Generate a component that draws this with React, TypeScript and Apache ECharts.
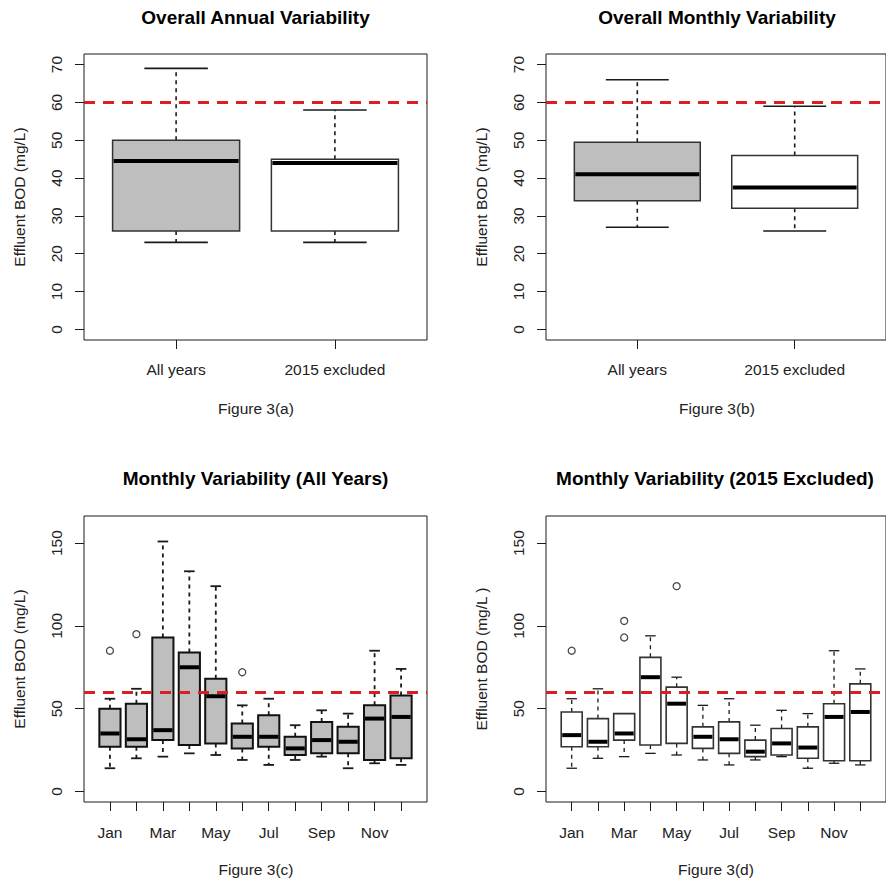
import React, { useEffect, useRef } from "react";
import * as echarts from "echarts";

// ---------- data ----------
const groupLabels = ["All years", "2015 excluded"];
// Figure 3(a) overall annual
const annualLow = [23, 23];
const annualQ1 = [26, 26];
const annualMed = [44.5, 44];
const annualQ3 = [50, 45];
const annualHigh = [69, 58];
// Figure 3(b) overall monthly
const monthlyLow = [27, 26];
const monthlyQ1 = [34, 32];
const monthlyMed = [41, 37.5];
const monthlyQ3 = [49.5, 46];
const monthlyHigh = [66, 59];

const months = ["Jan", "Feb", "Mar", "Apr", "May", "Jun", "Jul", "Aug", "Sep", "Oct", "Nov", "Dec"];
// Figure 3(c) all years
const allLow = [14, 20, 21, 23, 22, 19, 16, 19, 21, 14, 17, 16];
const allQ1 = [27, 27, 31, 28, 29, 26, 27, 22, 23, 23, 19, 20];
const allMed = [35, 31.5, 37, 75, 57.5, 33, 33, 26, 31, 30, 44, 45];
const allQ3 = [50, 53, 93, 84, 68, 41, 46, 33, 42, 39, 52, 58];
const allHigh = [56, 62, 151, 133, 124, 52, 56, 40, 49, 47, 85, 74];
const allOutMonth = [1, 2, 6];
const allOutValue = [85, 95, 72];
// Figure 3(d) 2015 excluded
const exLow = [14, 20, 21, 23, 22, 19, 16, 19, 21, 14, 17, 16];
const exQ1 = [27, 27, 31, 28, 29, 26, 23, 21, 22, 20, 18.5, 18.5];
const exMed = [34, 30, 35, 69, 53, 33, 31.5, 24, 29, 26.5, 45, 48];
const exQ3 = [48, 44, 47, 81, 63, 39, 42, 31, 38, 39, 53, 65];
const exHigh = [56, 62, 47, 94, 69, 52, 56, 40, 49, 47, 85, 74];
const exOutMonth = [1, 3, 3, 5];
const exOutValue = [85, 93, 103, 124];

const limitValue = 60;
const annualTicks = [0, 10, 20, 30, 40, 50, 60, 70];
const monthTicks = [0, 50, 100, 150];

// ---------- helpers ----------
const FONT = '"Liberation Sans", Arial, sans-serif';
const GRAY = "#bebebe";
const INK = "#1a1a1a";

function boxRows(low: number[], q1: number[], med: number[], q3: number[], high: number[]) {
  return low.map((_, i) => [i + 1, low[i], q1[i], med[i], q3[i], high[i]]);
}

function makeRender(fills: string[], borderW: number, whiskerW: number, borderColor: string) {
  return (params: any, api: any) => {
    const x = api.value(0);
    const vals = [1, 2, 3, 4, 5].map((d) => api.value(d));
    const w = api.size([0.8, 0])[0];
    const cx = api.coord([x, vals[0]])[0];
    const [yLow, yQ1, yMed, yQ3, yHigh] = vals.map((v) => api.coord([x, v])[1]);
    const fill = fills[params.dataIndex % fills.length];
    const children: any[] = [];
    if (yHigh < yQ3 - 0.5) {
      children.push({
        type: "line",
        shape: { x1: cx, y1: yQ3, x2: cx, y2: yHigh },
        style: { stroke: INK, lineWidth: whiskerW, lineDash: [4, 4] },
      });
    }
    if (yLow > yQ1 + 0.5) {
      children.push({
        type: "line",
        shape: { x1: cx, y1: yQ1, x2: cx, y2: yLow },
        style: { stroke: INK, lineWidth: whiskerW, lineDash: [4, 4] },
      });
    }
    children.push({
      type: "line",
      shape: { x1: cx - w / 4, y1: yHigh, x2: cx + w / 4, y2: yHigh },
      style: { stroke: INK, lineWidth: whiskerW },
    });
    children.push({
      type: "line",
      shape: { x1: cx - w / 4, y1: yLow, x2: cx + w / 4, y2: yLow },
      style: { stroke: INK, lineWidth: whiskerW },
    });
    children.push({
      type: "rect",
      shape: { x: cx - w / 2, y: yQ3, width: w, height: yQ1 - yQ3 },
      style: { fill, stroke: borderColor, lineWidth: borderW },
    });
    children.push({
      type: "line",
      shape: { x1: cx - w / 2 + 1, y1: yMed, x2: cx + w / 2 - 1, y2: yMed },
      style: { stroke: "#000", lineWidth: 4 },
    });
    return { type: "group", children };
  };
}

const markLineOpt = {
  silent: true,
  symbol: ["none", "none"],
  label: { show: false },
  emphasis: { disabled: true },
  lineStyle: { color: "#dc1e22", width: 3, type: [11, 8] },
  data: [{ yAxis: limitValue }],
};

const labelStyle = { fontFamily: FONT, fontSize: 15.5, color: "#222" };

function makeXAxis(gridIndex: number, nCats: number, labels: string[], labelValues: number[], margin: number) {
  const pad = nCats * 0.04;
  const ticks = labels.map((_, i) => i + 1);
  return {
    type: "value",
    gridIndex,
    min: 0.5 - pad,
    max: nCats + 0.5 + pad,
    axisLine: { show: false, onZero: false },
    splitLine: { show: false },
    axisTick: { show: true, length: 9, inside: false, lineStyle: { color: INK, width: 1 }, customValues: ticks },
    axisLabel: {
      ...labelStyle,
      margin,
      customValues: labelValues,
      formatter: (v: number) => labels[Math.round(v) - 1] ?? "",
    },
  };
}

function makeYAxis(gridIndex: number, top: number, ticks: number[], name: string) {
  const pad = top * 0.04;
  return {
    type: "value",
    gridIndex,
    min: -pad,
    max: top + pad,
    name,
    nameLocation: "middle",
    nameRotate: 90,
    nameGap: 57,
    nameTextStyle: { fontFamily: FONT, fontSize: 15.5, color: "#222" },
    axisLine: { show: false, onZero: false },
    splitLine: { show: false },
    axisTick: { show: true, length: 9, inside: false, lineStyle: { color: INK, width: 1 }, customValues: ticks },
    axisLabel: { ...labelStyle, rotate: 90, margin: 20, customValues: ticks, formatter: (v: number) => String(v) },
  };
}

function textEl(text: string, x: number, y: number, bold: boolean) {
  return {
    type: "text",
    x,
    y,
    silent: true,
    style: {
      text,
      font: `${bold ? "bold 19px" : "15.5px"} ${FONT}`,
      fill: bold ? "#000" : "#222",
      align: "center",
      verticalAlign: "middle",
      textAlign: "center",
      textVerticalAlign: "middle",
    },
  };
}

export default function App() {
  const ref = useRef<HTMLDivElement>(null);

  useEffect(() => {
    if (!ref.current) return;
    const chart = echarts.init(ref.current, null, { renderer: "svg" });

    const gridBase = { width: 343, height: 286, show: true, borderColor: INK, borderWidth: 1, backgroundColor: "transparent", containLabel: false };
    const monthLabelValues = [1, 3, 5, 7, 9, 11];

    const option: any = {
      animation: false,
      backgroundColor: "#fff",
      grid: [
        { ...gridBase, left: 84, top: 54 },
        { ...gridBase, left: 546, top: 54 },
        { ...gridBase, left: 84, top: 516 },
        { ...gridBase, left: 546, top: 516 },
      ],
      xAxis: [
        makeXAxis(0, 2, groupLabels, [1, 2], 21),
        makeXAxis(1, 2, groupLabels, [1, 2], 21),
        makeXAxis(2, 12, months, monthLabelValues, 22),
        makeXAxis(3, 12, months, monthLabelValues, 22),
      ],
      yAxis: [
        makeYAxis(0, 70, annualTicks, "Effluent BOD (mg/L)"),
        makeYAxis(1, 70, annualTicks, "Effluent BOD (mg/L)"),
        makeYAxis(2, 160, monthTicks, "Effluent BOD (mg/L)"),
        makeYAxis(3, 160, monthTicks, "Effluent BOD (mg/L )"),
      ],
      series: [
        {
          type: "custom",
          xAxisIndex: 0,
          yAxisIndex: 0,
          renderItem: makeRender([GRAY, "#fff"], 1.5, 1.6, "#333"),
          data: boxRows(annualLow, annualQ1, annualMed, annualQ3, annualHigh),
          encode: { x: 0, y: [1, 2, 3, 4, 5] },
          markLine: markLineOpt,
        },
        {
          type: "custom",
          xAxisIndex: 1,
          yAxisIndex: 1,
          renderItem: makeRender([GRAY, "#fff"], 1.5, 1.6, "#333"),
          data: boxRows(monthlyLow, monthlyQ1, monthlyMed, monthlyQ3, monthlyHigh),
          encode: { x: 0, y: [1, 2, 3, 4, 5] },
          markLine: markLineOpt,
        },
        {
          type: "custom",
          xAxisIndex: 2,
          yAxisIndex: 2,
          renderItem: makeRender([GRAY], 2, 1.8, "#111"),
          data: boxRows(allLow, allQ1, allMed, allQ3, allHigh),
          encode: { x: 0, y: [1, 2, 3, 4, 5] },
          markLine: markLineOpt,
        },
        {
          type: "custom",
          xAxisIndex: 3,
          yAxisIndex: 3,
          renderItem: makeRender(["#fff"], 1.6, 1.3, "#333"),
          data: boxRows(exLow, exQ1, exMed, exQ3, exHigh),
          encode: { x: 0, y: [1, 2, 3, 4, 5] },
          markLine: markLineOpt,
        },
        {
          type: "scatter",
          xAxisIndex: 2,
          yAxisIndex: 2,
          symbol: "circle",
          symbolSize: 7,
          silent: true,
          itemStyle: { color: "#fff", borderColor: INK, borderWidth: 1.3 },
          data: allOutMonth.map((m, i) => [m, allOutValue[i]]),
        },
        {
          type: "scatter",
          xAxisIndex: 3,
          yAxisIndex: 3,
          symbol: "circle",
          symbolSize: 7,
          silent: true,
          itemStyle: { color: "#fff", borderColor: INK, borderWidth: 1.3 },
          data: exOutMonth.map((m, i) => [m, exOutValue[i]]),
        },
      ],
      graphic: [
        textEl("Overall Annual Variability", 255.5, 17, true),
        textEl("Overall Monthly Variability", 717, 17, true),
        textEl("Monthly Variability (All Years)", 255.5, 478, true),
        textEl("Monthly Variability (2015 Excluded)", 715, 478, true),
        textEl("Figure 3(a)", 256, 408, false),
        textEl("Figure 3(b)", 717, 408, false),
        textEl("Figure 3(c)", 256, 869, false),
        textEl("Figure 3(d)", 716, 869, false),
      ],
    };

    chart.setOption(option);
    return () => chart.dispose();
  }, []);

  return (
    <div
      ref={ref}
      style={{ position: "fixed", left: 0, top: 0, width: 886, height: 881, background: "#fff" }}
    />
  );
}
